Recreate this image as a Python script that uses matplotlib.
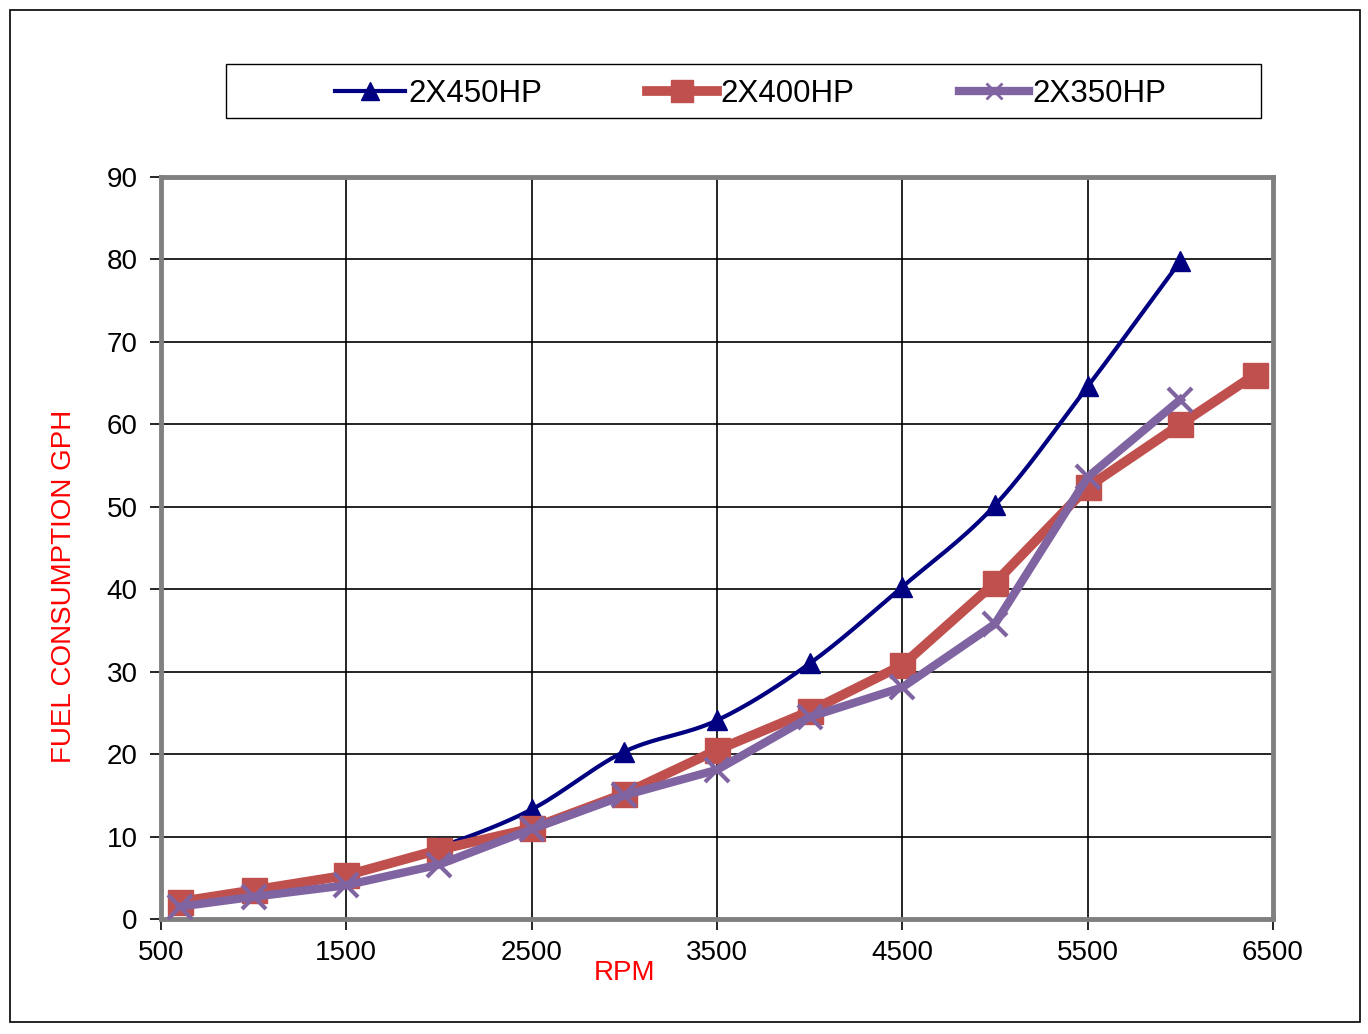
import numpy as np
import matplotlib
matplotlib.use("Agg")
import matplotlib.pyplot as plt
from matplotlib.patches import Rectangle
from matplotlib.lines import Line2D

plt.rcParams['font.family'] = ['Liberation Sans', 'DejaVu Sans']

rpm_450 = [600, 1000, 1500, 2000, 2500, 3000, 3500, 4000, 4500, 5000, 5500, 6000]
gph_450 = [2.1, 3.5, 5.3, 8.7, 13.3, 20.3, 24.1, 31.0, 40.3, 50.2, 64.6, 79.8]

rpm_400 = [600, 1000, 1500, 2000, 2500, 3000, 3500, 4000, 4500, 5000, 5500, 6000, 6400]
gph_400 = [2.1, 3.5, 5.3, 8.4, 11.0, 15.2, 20.5, 25.2, 30.8, 40.8, 52.4, 60.0, 66.0]

rpm_350 = [600, 1000, 1500, 2000, 2500, 3000, 3500, 4000, 4500, 5000, 5500, 6000]
gph_350 = [1.5, 2.7, 4.1, 6.6, 10.9, 15.0, 18.1, 24.5, 28.1, 35.8, 53.6, 63.0]

series_names = ["2X450HP", "2X400HP", "2X350HP"]
x_ticks = [500, 1500, 2500, 3500, 4500, 5500, 6500]
y_ticks = [0, 10, 20, 30, 40, 50, 60, 70, 80, 90]


def smooth(xs, ys, n=30):
    """Catmull-Rom style smoothing (like Excel's smoothed line)."""
    x = np.asarray(xs, float)
    y = np.asarray(ys, float)
    px = np.concatenate([[2 * x[0] - x[1]], x, [2 * x[-1] - x[-2]]])
    py = np.concatenate([[2 * y[0] - y[1]], y, [2 * y[-1] - y[-2]]])
    ox, oy = [], []
    t = np.linspace(0, 1, n)
    for i in range(1, len(px) - 2):
        p0, p1, p2, p3 = [np.array([px[j], py[j]]) for j in (i - 1, i, i + 1, i + 2)]
        c1 = p1 + (p2 - p0) / 6.0
        c2 = p2 - (p3 - p1) / 6.0
        b = ((1 - t) ** 3)[:, None] * p1 + (3 * (1 - t) ** 2 * t)[:, None] * c1 \
            + (3 * (1 - t) * t ** 2)[:, None] * c2 + (t ** 3)[:, None] * p2
        ox.extend(b[:, 0]); oy.extend(b[:, 1])
    return np.array(ox), np.array(oy)


fig = plt.figure(figsize=(13.68, 10.34), dpi=100)
ax = fig.add_axes([0.1177, 0.1112, 0.8129, 0.7176])

c_blue = "#000080"
c_red = "#C0504D"
c_purple = "#8064A2"

sx, sy = smooth(rpm_450, gph_450)
ax.plot(sx, sy, color=c_blue, lw=3, zorder=3, solid_capstyle='round')
ax.plot(rpm_450, gph_450, ls='none', marker='^', ms=14, color=c_blue, zorder=3)

ax.plot(rpm_400, gph_400, color=c_red, lw=7, marker='s', ms=18, zorder=4,
        solid_joinstyle='round')
ax.plot(rpm_350, gph_350, color=c_purple, lw=6, marker='x', ms=17, mew=3, zorder=5,
        solid_joinstyle='round')

ax.set_xlim(500, 6500)
ax.set_ylim(0, 90)
ax.set_xticks(x_ticks)
ax.set_yticks(y_ticks)
ax.set_xticklabels([str(v) for v in x_ticks], fontsize=20)
ax.set_yticklabels([str(v) for v in y_ticks], fontsize=20)
ax.tick_params(direction='out', length=8, width=1.2, color='black')
ax.tick_params(axis='y', pad=9)
ax.tick_params(axis='x', pad=7)
ax.grid(True, color='black', lw=1.2)
ax.set_axisbelow(True)
for s in ax.spines.values():
    s.set_color('#808080')
    s.set_linewidth(3.5)

fig.text(624 / 1368, 1 - 973 / 1034, "RPM", color='red', fontsize=20,
         ha='center', va='center')
fig.text(64 / 1368, 1 - 586 / 1034, "FUEL CONSUMPTION GPH", color='red', fontsize=20,
         ha='center', va='center', rotation=90)

handles = [
    Line2D([], [], color=c_blue, lw=3, marker='^', ms=13),
    Line2D([], [], color=c_red, lw=7, marker='s', ms=16),
    Line2D([], [], color=c_purple, lw=6, marker='x', ms=12, mew=2),
]
leg = fig.legend(handles, series_names, loc='center',
                 bbox_to_anchor=(233 / 1368, 1 - 121 / 1034, 1035 / 1368, 54 / 1034),
                 ncol=3, fontsize=22.5, frameon=False,
                 handlelength=2.25, handletextpad=0.1, columnspacing=3.35,
                 borderaxespad=0, borderpad=0.3)

fig.patches.append(Rectangle((226 / 1368, 1 - 118 / 1034), 1035 / 1368, 54 / 1034,
                             transform=fig.transFigure, fill=False, ec='black', lw=1.0))
fig.patches.append(Rectangle((10 / 1368, 1 - 1022 / 1034), 1350 / 1368, 1012 / 1034,
                             transform=fig.transFigure, fill=False, ec='black', lw=1.2))

fig.savefig("out.png", dpi=100)
